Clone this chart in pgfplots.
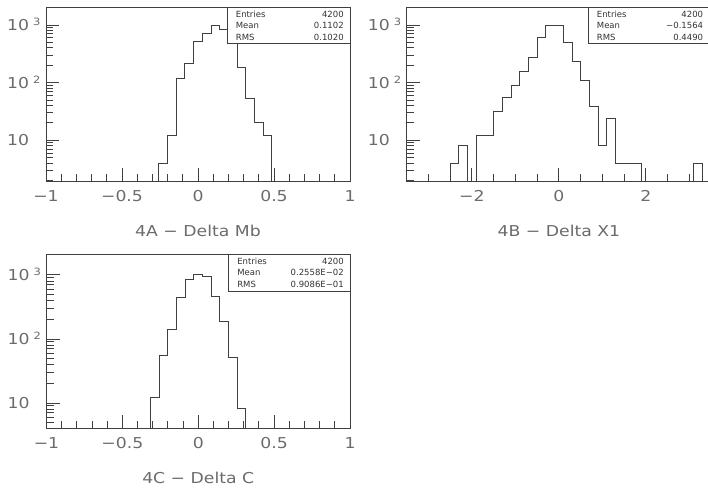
\documentclass[border=0pt]{standalone}
\usepackage{pgfplots}
\pgfplotsset{compat=1.18}
\usepackage{pgfplotstable}
\usepackage{fontspec}
\setmainfont{DejaVu Sans}[FakeStretch=1.15]
\newfontfamily\statfont{DejaVu Sans}

\pgfplotstableread{
x y
-0.25714 1
-0.25714 4
-0.2 12
-0.14286 117
-0.08571 214
-0.02857 527
0.02857 707
0.08571 1000
0.14286 820
0.2 560
0.25714 182
0.31429 54
0.37143 20
0.42857 12
0.48571 0.5
}\histA

\pgfplotstableread{
x y
-2.5 0.5
-2.5 4
-2.3 8
-2.1 0.5
-1.9 12
-1.7 12
-1.5 31
-1.3 56
-1.1 91
-0.9 157
-0.7 275
-0.5 602
-0.3 1000
-0.1 990
0.1 494
0.3 234
0.5 111
0.7 38
0.9 8
1.1 24
1.3 4
1.5 4
1.7 4
1.9 0.5
3.1 4
3.3 0.5
}\histB

\pgfplotstableread{
x y
-0.31429 1
-0.31429 12
-0.25714 56
-0.2 140
-0.14286 450
-0.08571 857
-0.02857 1030
0.02857 930
0.08571 460
0.14286 190
0.2 52
0.25714 8.2
0.31429 1
}\histC

\newcommand\pw[1]{10\hspace{4pt}\raisebox{5pt}{\fontsize{10}{10}\selectfont #1}}
\newcommand\stattext{\statfont\fontsize{8.5}{9}\selectfont}

\pgfplotsset{
  every axis/.append style={
    scale only axis,
    anchor=south west,
    axis line style={black!75, line width=1pt},
    tick align=inside,
    xtick pos=left, ytick pos=left,
    major tick length=13pt, minor tick length=7pt,
    every tick/.style={black!75, line width=1pt},
    every minor tick/.style={black!75, line width=1pt},
    tick label style={font=\fontsize{15}{15}\selectfont, text=black!58},
    yticklabel style={anchor=base west, inner sep=0pt, xshift=-39pt, yshift=-5.5pt},
    xticklabel style={anchor=base, inner sep=0pt, yshift=-20pt},
    xlabel style={font=\fontsize{15}{15}\selectfont, text=black!58, anchor=base, at={(axis description cs:0.5,-0.32)}},
  },
}

% y tick marks drawn on the left edge of an axis box:
% #1 = left x (pt), #2 = bottom y (pt), #3 = box height (pt), #4 = ymin, #5 = log10(ymax/ymin)
\newcommand\yticksbox[5]{%
  \foreach \v in {2,3,4,5,6,7,8,9,20,30,40,50,60,70,80,90,200,300,400,500,600,700,800,900}{%
    \pgfmathsetmacro\yy{#2+#3*log10(\v/#4)/#5}%
    \pgfmathparse{(\v>#4)?1:0}%
    \ifnum\pgfmathresult=1
      \draw[black!75, line width=1pt] (#1pt,\yy pt) -- ++(7pt,0pt);
    \fi}%
  \foreach \v in {10,100,1000}{%
    \pgfmathsetmacro\yy{#2+#3*log10(\v/#4)/#5}%
    \draw[black!75, line width=1pt] (#1pt,\yy pt) -- ++(13pt,0pt);}%
}

\begin{document}
\begin{tikzpicture}
\useasboundingbox (0,0) rectangle (708pt,491pt);

% Panel A
\begin{axis}[ymode=log, at={(46pt,310pt)}, width=304pt, height=173pt,
  xmin=-1, xmax=1, ymin=1.97, ymax=1972,
  ytick={10,100,1000}, yticklabels={10,\pw{2},\pw{3}},
  xtick={-1,-0.5,0,0.5,1}, xticklabels={−1,−0.5,0,0.5,1},
  minor xtick={-0.9,-0.8,-0.7,-0.6,-0.4,-0.3,-0.2,-0.1,0.1,0.2,0.3,0.4,0.6,0.7,0.8,0.9},
  ytick style={draw=none},
  xlabel={4A − Delta Mb}]
\addplot[const plot, black!75, line width=1pt, mark=none] table {\histA};
\draw[fill=white, draw=black!75, line width=1pt] (axis description cs:0.596,0.796) rectangle (axis description cs:1,1);
\node[anchor=base west, inner sep=0pt, font=\stattext, text=black!80] at (axis description cs:0.624,0.947) {Entries};
\node[anchor=base west, inner sep=0pt, font=\stattext, text=black!80] at (axis description cs:0.624,0.879) {Mean};
\node[anchor=base west, inner sep=0pt, font=\stattext, text=black!80] at (axis description cs:0.624,0.811) {RMS};
\node[anchor=base east, inner sep=0pt, font=\stattext, text=black!80] at (axis description cs:0.980,0.947) {4200};
\node[anchor=base east, inner sep=0pt, font=\stattext, text=black!80] at (axis description cs:0.980,0.879) {0.1102};
\node[anchor=base east, inner sep=0pt, font=\stattext, text=black!80] at (axis description cs:0.980,0.811) {0.1020};
\end{axis}
\yticksbox{46}{310}{173}{1.97}{3.0004}

% Panel B
\begin{axis}[ymode=log, at={(406.7pt,310pt)}, width=304.5pt, height=173pt,
  xmin=-3.5, xmax=3.5, ymin=1.97, ymax=1972,
  ytick={10,100,1000}, yticklabels={10,\pw{2},\pw{3}},
  xtick={-2,0,2}, xticklabels={−2,0,2},
  minor xtick={-3,-2.5,-1.5,-1,-0.5,0.5,1,1.5,2.5,3},
  ytick style={draw=none},
  xlabel={4B − Delta X1}]
\addplot[const plot, black!75, line width=1pt, mark=none] table {\histB};
\draw[fill=white, draw=black!75, line width=1pt] (axis description cs:0.598,0.794) rectangle (axis description cs:1,1);
\node[anchor=base west, inner sep=0pt, font=\stattext, text=black!80] at (axis description cs:0.624,0.947) {Entries};
\node[anchor=base west, inner sep=0pt, font=\stattext, text=black!80] at (axis description cs:0.624,0.879) {Mean};
\node[anchor=base west, inner sep=0pt, font=\stattext, text=black!80] at (axis description cs:0.624,0.811) {RMS};
\node[anchor=base east, inner sep=0pt, font=\stattext, text=black!80] at (axis description cs:0.974,0.947) {4200};
\node[anchor=base east, inner sep=0pt, font=\stattext, text=black!80] at (axis description cs:0.974,0.879) {−0.1564};
\node[anchor=base east, inner sep=0pt, font=\stattext, text=black!80] at (axis description cs:0.974,0.811) {0.4490};
\end{axis}
\yticksbox{406.7}{310}{173}{1.97}{3.0004}

% Panel C
\begin{axis}[ymode=log, at={(46.5pt,63pt)}, width=303.5pt, height=173pt,
  xmin=-1, xmax=1, ymin=4.08, ymax=2047,
  ytick={10,100,1000}, yticklabels={10,\pw{2},\pw{3}},
  xtick={-1,-0.5,0,0.5,1}, xticklabels={−1,−0.5,0,0.5,1},
  minor xtick={-0.9,-0.8,-0.7,-0.6,-0.4,-0.3,-0.2,-0.1,0.1,0.2,0.3,0.4,0.6,0.7,0.8,0.9},
  ytick style={draw=none},
  xlabel={4C − Delta C}]
\addplot[const plot, black!75, line width=1pt, mark=none] table {\histC};
\draw[fill=white, draw=black!75, line width=1pt] (axis description cs:0.601,0.790) rectangle (axis description cs:1,1);
\node[anchor=base west, inner sep=0pt, font=\stattext, text=black!80] at (axis description cs:0.628,0.947) {Entries};
\node[anchor=base west, inner sep=0pt, font=\stattext, text=black!80] at (axis description cs:0.628,0.879) {Mean};
\node[anchor=base west, inner sep=0pt, font=\stattext, text=black!80] at (axis description cs:0.628,0.811) {RMS};
\node[anchor=base east, inner sep=0pt, font=\stattext, text=black!80] at (axis description cs:0.980,0.947) {4200};
\node[anchor=base east, inner sep=0pt, font=\stattext, text=black!80] at (axis description cs:0.980,0.879) {0.2558E−02};
\node[anchor=base east, inner sep=0pt, font=\stattext, text=black!80] at (axis description cs:0.980,0.811) {0.9086E−01};
\end{axis}
\yticksbox{46.5}{63}{173}{4.08}{2.7005}
\end{tikzpicture}
\end{document}
